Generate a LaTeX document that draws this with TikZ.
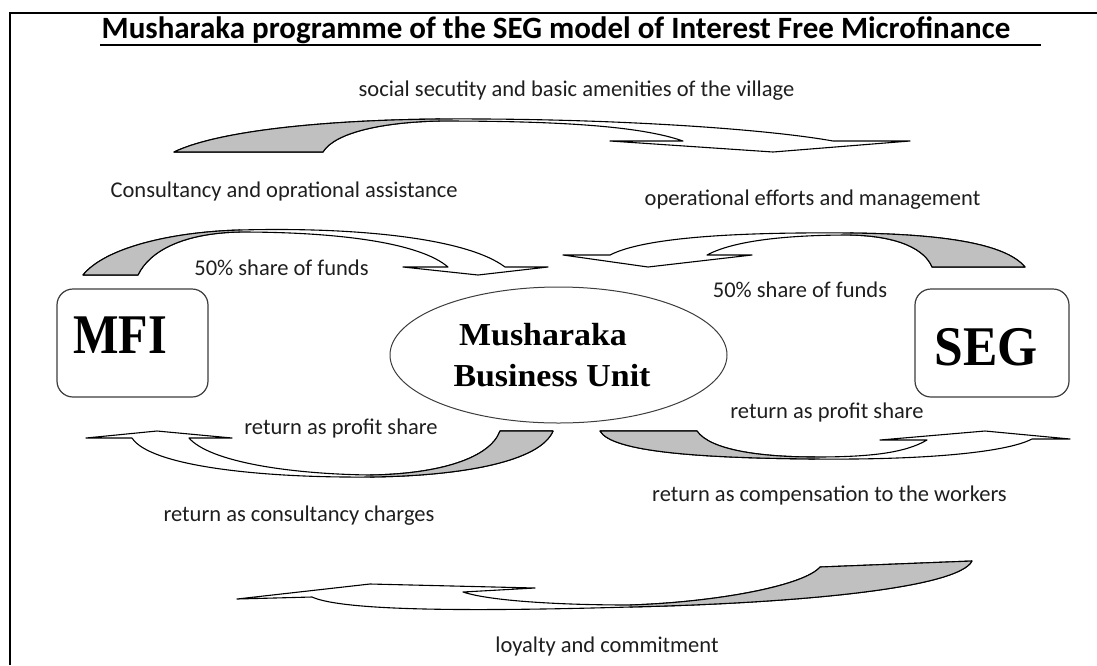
\documentclass[tikz,border=0pt]{standalone}
\usepackage{fontspec}
\setmainfont{Carlito}
\newfontfamily\boxfont{Liberation Serif}
\usetikzlibrary{shapes.geometric}
\definecolor{ribbonshade}{RGB}{192,192,192}
\definecolor{boxline}{RGB}{60,60,60}
\definecolor{inktext}{RGB}{30,30,30}
\tikzset{
  lbl/.style={anchor=base, font=\fontsize{22.5}{26}\selectfont, text=inktext, inner sep=0pt},
  ribbonfront/.style={draw=black, line width=1.1pt, line join=round, fill=white},
  ribbonback/.style={draw=black, line width=1.1pt, line join=round, fill=ribbonshade},
  unitbox/.style={draw=boxline, line width=1.2pt, rounded corners=16pt,
    minimum width=151pt, minimum height=108pt, inner sep=0pt},
  bigword/.style={anchor=base, font=\boxfont\bfseries\fontsize{56}{60}\selectfont, inner sep=0pt},
  unitword/.style={anchor=base, font=\boxfont\bfseries\fontsize{32}{36}\selectfont, inner sep=0pt},
}
% #1: clip region holding the shaded back of the ribbon, #2: ribbon outline
\newcommand\curvedribbon[2]{%
  \path[ribbonfront] #2;
  \begin{scope}
    \clip #1;
    \path[ribbonback] #2;
  \end{scope}}

\begin{document}
\begin{tikzpicture}[x=1pt, y=-1pt]
\useasboundingbox (0,0) rectangle (1097,665);

% frame
\draw[line width=2pt] (10,665) -- (10,12.5) -- (1097,12.5);

% title
\node[anchor=base, inner sep=0pt, font=\bfseries\fontsize{31}{34}\selectfont, text=black]
  (title) at (556,38) {Musharaka programme of the SEG model of Interest Free Microfinance};
\draw[line width=2.6pt] (100,45) -- (1041,45);

% partners and the joint business unit
\node[unitbox] (mfi) at (132.5,343) {};
\node[bigword] (mfitext) at (120,353) {\scalebox{0.86}[1]{MFI}};
\node[unitbox, minimum width=154pt] (seg) at (992,343) {};
\node[bigword] (segtext) at (986.5,365) {\scalebox{0.92}[1]{SEG}};
\node[ellipse, draw=boxline, line width=1pt, minimum width=337pt, minimum height=136pt, inner sep=0pt]
  (mbu) at (558.5,355) {};
\node[unitword] (mbu1) at (543,345) {\scalebox{1.06}[1]{Musharaka}};
\node[unitword] (mbu2) at (552,386) {\scalebox{1.06}[1]{Business Unit}};

% social security: SEG side back to the village (top arc)
\curvedribbon{(0,0) rectangle (440,665)}{(174,152) .. controls (220,130) and (330,120) .. (440,119)
  .. controls (600,118) and (760,128) .. (833,141) -- (910,141) -- (773,152) -- (610,141) -- (683,141)
  .. controls (640,126) and (560,121) .. (440,121) .. controls (385,122) and (335,132) .. (323,152) -- cycle}

% MFI funds into the unit
\curvedribbon{(0,0) rectangle (240,665)}{(83,275) .. controls (105,248) and (170,232) .. (240,230)
  .. controls (350,227) and (465,237) .. (505,267) -- (548,267) -- (478,275) -- (403,267) -- (448,267)
  .. controls (420,243) and (340,232) .. (240,232) .. controls (185,233) and (150,250) .. (138,275) -- cycle}

% SEG funds into the unit
\curvedribbon{(850,0) rectangle (1097,665)}{(1025,267) .. controls (1005,243) and (940,234) .. (850,233)
  .. controls (740,232) and (645,237) .. (610,255) -- (563,255) -- (648,267) -- (752,255) -- (707,255)
  .. controls (735,240) and (790,235) .. (850,235) .. controls (900,236) and (925,250) .. (932,267) -- cycle}

% profit share back to MFI
\curvedribbon{(370,0) rectangle (1097,665)}{(553,431) .. controls (540,462) and (460,476) .. (370,477)
  .. controls (260,478) and (150,466) .. (132,438) -- (86,438) -- (157,431) -- (232,438) -- (189,438)
  .. controls (210,462) and (290,474) .. (370,475) .. controls (440,474) and (490,458) .. (500,431) -- cycle}

% profit share to SEG
\curvedribbon{(0,0) rectangle (815,665)}{(600,431) .. controls (612,452) and (700,458) .. (815,459)
  .. controls (920,460) and (1005,453) .. (1032,439) -- (1070,439) -- (985,431) -- (880,440) -- (927,440)
  .. controls (905,453) and (870,457) .. (815,457) .. controls (760,457) and (710,450) .. (697,431) -- cycle}

% loyalty from SEG to MFI (bottom arc)
\curvedribbon{(630,0) rectangle (1097,665)}{(972,561) .. controls (958,588) and (800,603) .. (630,607)
  .. controls (490,611) and (345,612) .. (312,597) -- (237,599) -- (370,584) -- (535,588) -- (463,592)
  .. controls (490,601) and (560,605) .. (630,605) .. controls (720,602) and (805,585) .. (820,567) -- cycle}

% flow labels
\node[lbl] (lsocial) at (576.5,96) {social secutity and basic amenities of the village};
\node[lbl, anchor=base east] (lconsult) at (458,197) {Consultancy and oprational assistance};
\node[lbl] (loper) at (812.5,205) {operational efforts and management};
\node[lbl] (lfundl) at (281.5,275) {50\% share of funds};
\node[lbl] (lfundr) at (800,297) {50\% share of funds};
\node[lbl] (lprofl) at (341,434) {return as profit share};
\node[lbl] (lprofr) at (827,418) {return as profit share};
\node[lbl] (lcharge) at (299,521) {return as consultancy charges};
\node[lbl] (lworker) at (829.5,501) {return as compensation to the workers};
\node[lbl] (lloyal) at (607,652) {loyalty and commitment};
\end{tikzpicture}
\end{document}
